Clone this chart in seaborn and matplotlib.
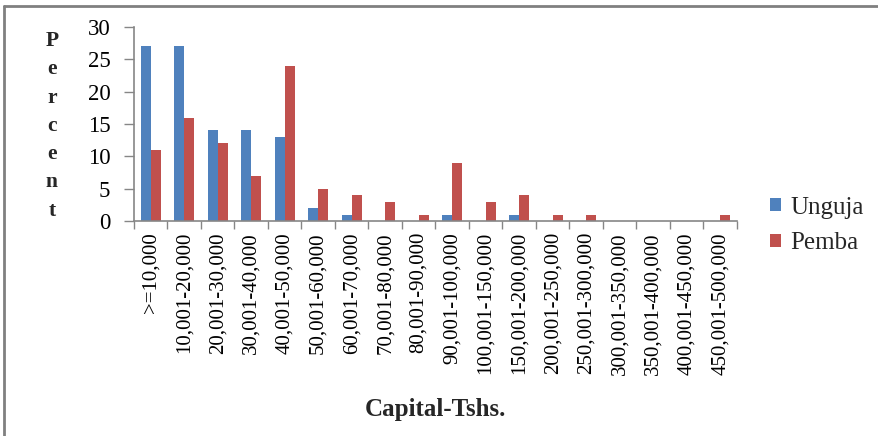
import matplotlib
matplotlib.use("Agg")
import matplotlib.pyplot as plt
from matplotlib.patches import Patch
from matplotlib.lines import Line2D
import pandas as pd
import seaborn as sns

# Capital bands (Tshs.) and percentage of businesses per island
categories = [
    ">=10,000", "10,001-20,000", "20,001-30,000", "30,001-40,000",
    "40,001-50,000", "50,001-60,000", "60,001-70,000", "70,001-80,000",
    "80,001-90,000", "90,001-100,000", "100,001-150,000", "150,001-200,000",
    "200,001-250,000", "250,001-300,000", "300,001-350,000", "350,001-400,000",
    "400,001-450,000", "450,001-500,000",
]
unguja = [27, 27, 14, 14, 13, 2, 1, 0, 0, 1, 0, 1, 0, 0, 0, 0, 0, 0]
pemba = [11, 16, 12, 7, 24, 5, 4, 3, 1, 9, 3, 4, 1, 1, 0, 0, 0, 1]
series_names = ["Unguja", "Pemba"]
y_ticks = [0, 5, 10, 15, 20, 25, 30]

colors = {"Unguja": "#4F81BD", "Pemba": "#C0504D"}

df = pd.DataFrame({
    "Capital": categories * 2,
    "Percent": unguja + pemba,
    "Island": [series_names[0]] * len(categories) + [series_names[1]] * len(categories),
})

sns.set_theme(style="white")
plt.rcParams["font.family"] = ["Liberation Serif", "DejaVu Serif"]

fig = plt.figure(figsize=(8.79, 4.36), dpi=100)
ax = fig.add_axes([0.1524, 0.4931, 0.686, 0.4450])

sns.barplot(
    data=df, x="Capital", y="Percent", hue="Island",
    order=categories, hue_order=series_names, palette=colors,
    width=0.6, saturation=1, linewidth=0, legend=False, ax=ax,
)

axis_grey = "#868686"
ax.set_ylim(0, 30)
ax.set_xlim(-0.5, len(categories) - 0.5)
ax.set_yticks(y_ticks)
ax.set_yticklabels([str(v) for v in y_ticks], fontsize=16.5, color="black")
ax.tick_params(axis="y", direction="out", length=7, width=1, color=axis_grey,
               left=True, pad=10)

ax.set_xticks(range(len(categories)))
ax.set_xticklabels(categories, rotation=90, fontsize=15, color="black",
                   va="top", ha="center")
ax.tick_params(axis="x", which="major", length=0, pad=8)
ax.set_xticks([i - 0.5 for i in range(len(categories) + 1)], minor=True)
ax.tick_params(axis="x", which="minor", direction="out", length=6, width=1,
               color=axis_grey, bottom=True)

for side in ("top", "right"):
    ax.spines[side].set_visible(False)
for side in ("left", "bottom"):
    ax.spines[side].set_color(axis_grey)
    ax.spines[side].set_linewidth(1.2)

ax.set_xlabel("Capital-Tshs.", fontsize=18, fontweight="bold")
ax.xaxis.set_label_coords(0.5, -0.91)
ax.set_ylabel("P\ne\nr\nc\ne\nn\nt", rotation=0, fontsize=15.5,
              fontweight="bold", linespacing=1.55, va="center", ha="center")
ax.yaxis.set_label_coords(-0.136, 0.49)

handles = [Patch(facecolor=colors[n], edgecolor="none", label=n) for n in series_names]
fig.legend(handles=handles, loc="center left", bbox_to_anchor=(0.876, 0.483),
           frameon=False, fontsize=18, handlelength=0.45, handleheight=0.45,
           handletextpad=0.35, labelspacing=0.55, borderpad=0, borderaxespad=0)

# outer frame
fig.add_artist(Line2D([4 / 879, 1.0], [1 - 6 / 436, 1 - 6 / 436],
                      transform=fig.transFigure, color="#808080", linewidth=2))
fig.add_artist(Line2D([4 / 879, 4 / 879], [0.0, 1 - 6 / 436],
                      transform=fig.transFigure, color="#808080", linewidth=2))

fig.savefig("out.png", dpi=100)
